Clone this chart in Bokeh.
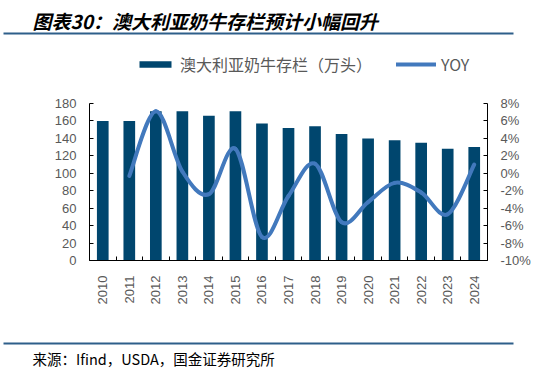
import math
from bokeh.plotting import figure
from bokeh.models import (Range1d, LinearAxis, FixedTicker, Legend, LegendItem, Label,
                          BoxAnnotation)
from bokeh.embed import file_html
from bokeh.resources import INLINE

# ---- data ----
years = [str(y) for y in range(2010, 2025)]
herd = [160, 160, 171, 171, 166, 171, 157, 152, 154, 145, 140, 138, 135, 128, 130]
yoy_years = years[1:]
yoy = [-0.3, 7.1, 0.2, -2.4, 2.8, -7.3, -2.6, 1.1, -5.6, -3.3, -1.1, -2.2, -4.7, 1.0]
left_ticks = list(range(0, 181, 20))
right_ticks = list(range(-10, 9, 2))
title_text = "图表30：澳大利亚奶牛存栏预计小幅回升"
source_text = "来源：Ifind，USDA，国金证券研究所"
bar_label = "澳大利亚奶牛存栏（万头）"
line_label = "YOY"

BAR = "#00466E"
LINE = "#4279BD"
RULE = "#2E5F8A"
GRAY = "#595959"
FONT = "Liberation Sans"
CJK = "Noto Sans CJK SC"

# ---- layout (pixels) ----
W, H = 555, 370
PL, PR, PT, PB = 89, 487, 103, 260          # plot-area box
L_MIN, L_MAX = left_ticks[0], left_ticks[-1]
R_MIN, R_MAX = right_ticks[0], right_ticks[-1]
nslot = len(years)

# the frame is the whole canvas; ranges are chosen so the data box lands at PL..PR, PT..PB
px_slot = (PR - PL) / nslot
px_l = (PB - PT) / (L_MAX - L_MIN)
px_r = (PB - PT) / (R_MAX - R_MIN)
x_range = Range1d(-PL / px_slot, (W - PL) / px_slot)
y_range = Range1d(L_MIN - (H - PB) / px_l, L_MIN + PB / px_l)
yoy_range = Range1d(R_MIN - (H - PB) / px_r, R_MIN + PB / px_r)

p = figure(width=W, height=H, x_range=x_range, y_range=y_range,
           output_backend="svg", toolbar_location=None,
           x_axis_location=None, y_axis_location=None, min_border=0)
p.outline_line_color = None
p.grid.visible = False
p.extra_y_ranges = {"yoy": yoy_range}

pos = {y: i + 0.5 for i, y in enumerate(years)}
bar_x = [pos[y] for y in years]

x_axis = LinearAxis(ticker=FixedTicker(ticks=bar_x, minor_ticks=list(range(nslot + 1))),
                    bounds=(0, nslot), fixed_location=L_MIN,
                    axis_line_color="black", major_tick_line_color=None,
                    minor_tick_in=4, minor_tick_out=0, minor_tick_line_color="black",
                    major_label_orientation=math.pi / 2,
                    major_label_overrides={pos[y]: y for y in years},
                    major_label_standoff=9, major_label_text_font=FONT,
                    major_label_text_font_size="13px", major_label_text_color=GRAY)
p.add_layout(x_axis, "below")

left_axis = LinearAxis(ticker=FixedTicker(ticks=left_ticks), bounds=(L_MIN, L_MAX),
                       fixed_location=0, major_tick_in=4, major_tick_out=0,
                       minor_tick_line_color=None, major_label_standoff=13,
                       major_label_text_font=FONT, major_label_text_font_size="13px",
                       major_label_text_color=GRAY, axis_line_color="black")
p.add_layout(left_axis, "left")
right_axis = LinearAxis(y_range_name="yoy", ticker=FixedTicker(ticks=right_ticks),
                        bounds=(R_MIN, R_MAX), fixed_location=nslot,
                        major_tick_in=4, major_tick_out=0, minor_tick_line_color=None,
                        major_label_standoff=13, major_label_text_font=FONT,
                        major_label_text_font_size="13px", major_label_text_color=GRAY,
                        axis_line_color="black",
                        major_label_overrides={t: f"{t}%" for t in right_ticks})
p.add_layout(right_axis, "right")

bars = p.vbar(x=bar_x, top=herd, bottom=L_MIN, width=0.44, fill_color=BAR, line_color=None)

# smoothed YOY line (Catmull-Rom -> cubic Bezier through the data points)
xs = [pos[y] for y in yoy_years]
n = len(xs)
def pt(i):
    i = max(0, min(n - 1, i))
    return xs[i], yoy[i]
x0, y0, x1, y1, cx0, cy0, cx1, cy1 = ([] for _ in range(8))
for k in range(n - 1):
    pa, pb, pc, pd = pt(k - 1), pt(k), pt(k + 1), pt(k + 2)
    x0.append(pb[0]); y0.append(pb[1]); x1.append(pc[0]); y1.append(pc[1])
    cx0.append(pb[0] + (pc[0] - pa[0]) / 6); cy0.append(pb[1] + (pc[1] - pa[1]) / 6)
    cx1.append(pc[0] - (pd[0] - pb[0]) / 6); cy1.append(pc[1] - (pd[1] - pb[1]) / 6)
curve = p.bezier(x0=x0, y0=y0, x1=x1, y1=y1, cx0=cx0, cy0=cy0, cx1=cx1, cy1=cy1,
                 line_color=LINE, line_width=4, line_cap="round", y_range_name="yoy")

legend = Legend(items=[LegendItem(label=bar_label, renderers=[bars]),
                       LegendItem(label=line_label, renderers=[curve])],
                orientation="horizontal", location=(135, H - 76), padding=0, margin=0,
                spacing=24, glyph_width=40, glyph_height=8, label_standoff=5,
                label_height=16, label_text_font=CJK, label_text_font_size="16px",
                label_text_color=GRAY, border_line_color=None, background_fill_alpha=0)
p.add_layout(legend, "center")

p.add_layout(Label(x=32, y=H - 20, x_units="screen", y_units="screen", text=title_text,
                   text_font=CJK, text_font_style="bold italic", text_font_size="19px",
                   text_baseline="middle", text_color="black"))
p.add_layout(Label(x=32, y=H - 358, x_units="screen", y_units="screen", text=source_text,
                   text_font=CJK, text_font_size="14.5px", text_baseline="middle",
                   text_color="black"))
for ry in (33, 343):
    p.add_layout(BoxAnnotation(left=3, right=513, top=H - ry + 1, bottom=H - ry - 1,
                               left_units="screen", right_units="screen",
                               top_units="screen", bottom_units="screen",
                               fill_color=RULE, fill_alpha=1, line_color=None))

open("out.html", "w").write(file_html(p, INLINE))
